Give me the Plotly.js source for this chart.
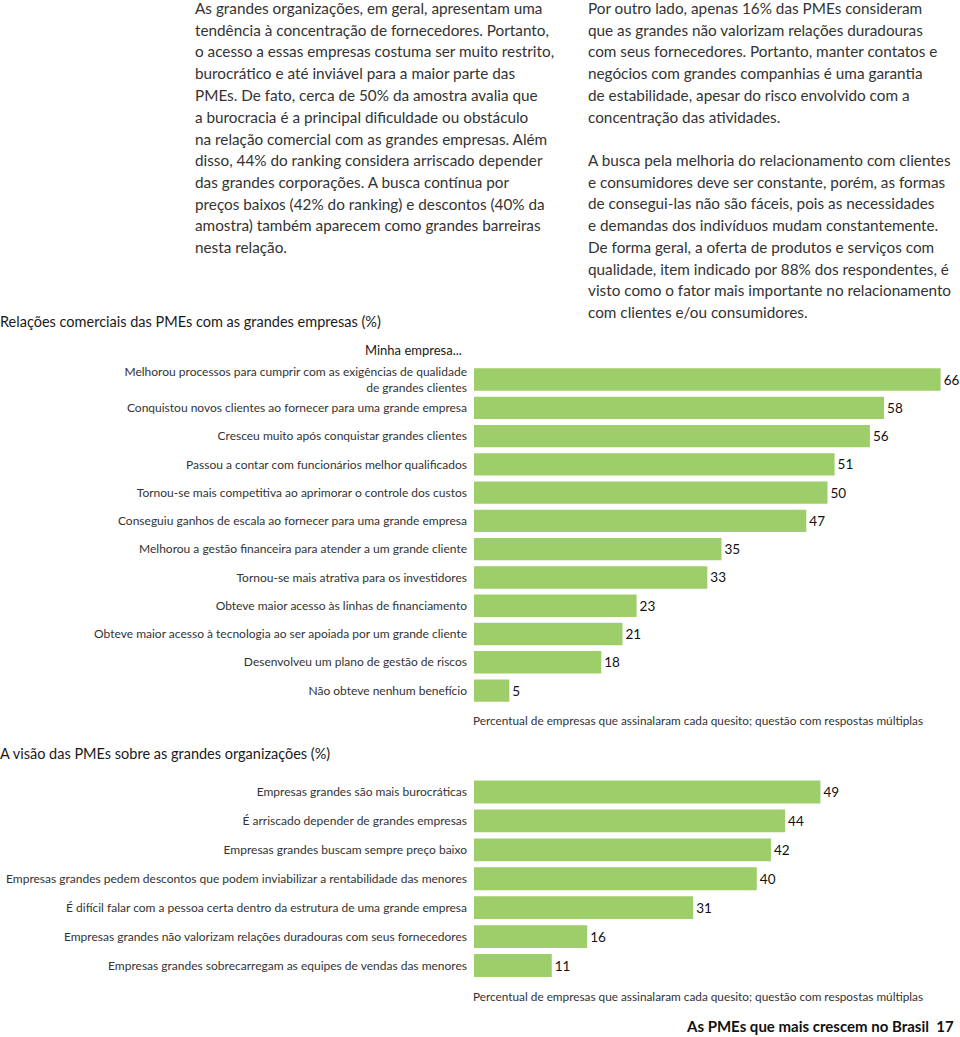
<!DOCTYPE html>
<html>
<head>
<meta charset="utf-8">
<script src="https://cdn.plot.ly/plotly-3.0.1.min.js"></script>
<style>
html,body{margin:0;padding:0;background:#fff;}
#chart{width:960px;height:1037px;}
</style>
</head>
<body>
<div id="chart"></div>
<script>
// ---- Data ----
var chart1Categories = [
  "Melhorou processos para cumprir com as exigências de qualidade<br>de grandes clientes",
  "Conquistou novos clientes ao fornecer para uma grande empresa",
  "Cresceu muito após conquistar grandes clientes",
  "Passou a contar com funcionários melhor qualificados",
  "Tornou-se mais competitiva ao aprimorar o controle dos custos",
  "Conseguiu ganhos de escala ao fornecer para uma grande empresa",
  "Melhorou a gestão financeira para atender a um grande cliente",
  "Tornou-se mais atrativa para os investidores",
  "Obteve maior acesso às linhas de financiamento",
  "Obteve maior acesso à tecnologia ao ser apoiada por um grande cliente",
  "Desenvolveu um plano de gestão de riscos",
  "Não obteve nenhum benefício"
];
var chart1Values = [66, 58, 56, 51, 50, 47, 35, 33, 23, 21, 18, 5];

var chart2Categories = [
  "Empresas grandes são mais burocráticas",
  "É arriscado depender de grandes empresas",
  "Empresas grandes buscam sempre preço baixo",
  "Empresas grandes pedem descontos que podem inviabilizar a rentabilidade das menores",
  "É difícil falar com a pessoa certa dentro da estrutura de uma grande empresa",
  "Empresas grandes não valorizam relações duradouras com seus fornecedores",
  "Empresas grandes sobrecarregam as equipes de vendas das menores"
];
var chart2Values = [49, 44, 42, 40, 31, 16, 11];

var chart1Title = "Relações comerciais das PMEs com as grandes empresas (%)";
var chart1Subtitle = "Minha empresa...";
var chart2Title = "A visão das PMEs sobre as grandes organizações (%)";
var noteText = "Percentual de empresas que assinalaram cada quesito; questão com respostas múltiplas";
var footerText = "As PMEs que mais crescem no Brasil\u00a0\u00a017";

var leftParagraph = [
  "As grandes organizações, em geral, apresentam uma",
  "tendência à concentração de fornecedores. Portanto,",
  "o acesso a essas empresas costuma ser muito restrito,",
  "burocrático e até inviável para a maior parte das",
  "PMEs. De fato, cerca de 50% da amostra avalia que",
  "a burocracia é a principal dificuldade ou obstáculo",
  "na relação comercial com as grandes empresas. Além",
  "disso, 44% do ranking considera arriscado depender",
  "das grandes corporações. A busca contínua por",
  "preços baixos (42% do ranking) e descontos (40% da",
  "amostra) também aparecem como grandes barreiras",
  "nesta relação."
];
var rightParagraph1 = [
  "Por outro lado, apenas 16% das PMEs consideram",
  "que as grandes não valorizam relações duradouras",
  "com seus fornecedores. Portanto, manter contatos e",
  "negócios com grandes companhias é uma garantia",
  "de estabilidade, apesar do risco envolvido com a",
  "concentração das atividades."
];
var rightParagraph2 = [
  "A busca pela melhoria do relacionamento com clientes",
  "e consumidores deve ser constante, porém, as formas",
  "de consegui-las não são fáceis, pois as necessidades",
  "e demandas dos indivíduos mudam constantemente.",
  "De forma geral, a oferta de produtos e serviços com",
  "qualidade, item indicado por 88% dos respondentes, é",
  "visto como o fator mais importante no relacionamento",
  "com clientes e/ou consumidores."
];

// ---- Layout helpers ----
var W = 960, H = 1037;
var FONT = "Lato, 'Open Sans', sans-serif";
var GREEN = "#9dce69";
function py(px){ return 1 - px / H; }
function px(x){ return x / W; }

var annotations = [];
function addLines(lines, xLeft, yStart, pitch, size, color){
  lines.forEach(function(t, i){
    annotations.push({
      xref:'paper', yref:'paper', x: px(xLeft), y: py(yStart + i * pitch),
      xanchor:'left', yanchor:'middle', showarrow:false, align:'left',
      text: t, font:{family:FONT, size:size, color:color}
    });
  });
}
addLines(leftParagraph, 193, 8, 21.75, 15.3, "#333333");
addLines(rightParagraph1, 586, 8, 21.75, 15.3, "#333333");
addLines(rightParagraph2, 586, 160, 21.75, 15.3, "#333333");

annotations.push({xref:'paper', yref:'paper', x:px(-2), y:py(321), xanchor:'left', yanchor:'middle',
  showarrow:false, text:chart1Title, font:{family:FONT, size:14.5, color:"#1a1a1a"}});
annotations.push({xref:'paper', yref:'paper', x:px(464), y:py(350), xanchor:'right', yanchor:'middle',
  showarrow:false, text:chart1Subtitle, font:{family:FONT, size:13, color:"#1a1a1a"}});
annotations.push({xref:'paper', yref:'paper', x:px(471), y:py(720), xanchor:'left', yanchor:'middle',
  showarrow:false, text:noteText, font:{family:FONT, size:11.8, color:"#333333"}});
annotations.push({xref:'paper', yref:'paper', x:px(-2), y:py(753), xanchor:'left', yanchor:'middle',
  showarrow:false, text:chart2Title, font:{family:FONT, size:14.5, color:"#1a1a1a"}});
annotations.push({xref:'paper', yref:'paper', x:px(471), y:py(996), xanchor:'left', yanchor:'middle',
  showarrow:false, text:noteText, font:{family:FONT, size:11.8, color:"#333333"}});
annotations.push({xref:'paper', yref:'paper', x:px(956), y:py(1026), xanchor:'right', yanchor:'middle',
  showarrow:false, text:"<b>" + footerText + "</b>", font:{family:FONT, size:15, color:"#111111"}});

var xStart = 474;
var pxPerUnit = 7.07;
var xRangeMax = (W - xStart) / pxPerUnit;

var traces = [
  {
    type:'bar', orientation:'h', x: chart1Values, y: chart1Categories,
    xaxis:'x', yaxis:'y', marker:{color:GREEN, line:{width:0}},
    text: chart1Values.map(String), textposition:'outside', cliponaxis:false,
    textfont:{family:FONT, size:13.5, color:"#111111"}, hoverinfo:'x+y'
  },
  {
    type:'bar', orientation:'h', x: chart2Values, y: chart2Categories,
    xaxis:'x2', yaxis:'y2', marker:{color:GREEN, line:{width:0}},
    text: chart2Values.map(String), textposition:'outside', cliponaxis:false,
    textfont:{family:FONT, size:13.5, color:"#111111"}, hoverinfo:'x+y'
  }
];

var axX = {domain:[px(xStart), 1], range:[0, xRangeMax], visible:false, fixedrange:true};
function axY(top, bottom, n){
  return {
    domain:[py(bottom), py(top)], range:[n - 0.5, -0.5], type:'category',
    showgrid:false, zeroline:false, showline:false, ticks:'',
    ticklabelstandoff:6,
    tickfont:{family:FONT, size:12, color:"#333333"}, fixedrange:true
  };
}
var ax1 = axY(365.4, 704.7, chart1Categories.length);
ax1.anchor = 'x';
var ax2 = axY(777.5, 980, chart2Categories.length);
ax2.anchor = 'x2';

var layout = {
  width: W, height: H,
  margin:{l:0, r:0, t:0, b:0, pad:0},
  paper_bgcolor:'#ffffff', plot_bgcolor:'#ffffff',
  showlegend:false, bargap:0.21,
  font:{family:FONT},
  xaxis: Object.assign({}, axX, {anchor:'y'}),
  xaxis2: Object.assign({}, axX, {anchor:'y2'}),
  yaxis: ax1,
  yaxis2: ax2,
  annotations: annotations
};

Plotly.newPlot('chart', traces, layout, {displayModeBar:false, staticPlot:true});
</script>
</body>
</html>
